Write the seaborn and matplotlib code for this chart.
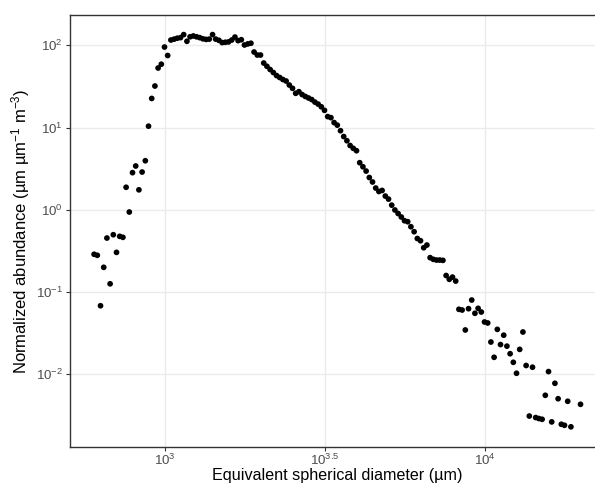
import matplotlib
matplotlib.use('Agg')
import matplotlib.pyplot as plt
import seaborn as sns
import pandas as pd

# Equivalent spherical diameter (µm), bin centres
diameter_um = [
    602.6, 616.6, 631.0, 645.7, 660.7, 676.1, 691.8, 707.9, 724.4, 741.3,
    758.6, 776.2, 794.3, 812.8, 831.8, 851.1, 871.0, 891.3, 912.0, 933.3,
    955.0, 977.2, 1000, 1023, 1047, 1072, 1096, 1122, 1148, 1175,
    1202, 1230, 1259, 1288, 1318, 1349, 1380, 1413, 1445, 1479,
    1514, 1549, 1585, 1622, 1660, 1698, 1738, 1778, 1820, 1862,
    1905, 1950, 1995, 2042, 2089, 2138, 2188, 2239, 2291, 2344,
    2399, 2455, 2512, 2570, 2630, 2692, 2754, 2818, 2884, 2951,
    3020, 3090, 3162, 3236, 3311, 3388, 3467, 3548, 3631, 3715,
    3802, 3890, 3981, 4074, 4169, 4266, 4365, 4467, 4571, 4677,
    4786, 4898, 5012, 5129, 5248, 5370, 5495, 5623, 5754, 5888,
    6026, 6166, 6310, 6457, 6607, 6761, 6918, 7079, 7244, 7413,
    7586, 7762, 7943, 8128, 8318, 8511, 8710, 8913, 9120, 9333,
    9550, 9772, 10000, 10233, 10471, 10715, 10965, 11220, 11482, 11749,
    12023, 12303, 12589, 12882, 13183, 13490, 13804, 14125, 14454, 14791,
    15136, 15488, 15849, 16218, 16596, 16982, 17378, 17783, 18197, 18621,
    19953,
]

# Normalized abundance (µm µm^-1 m^-3)
abundance = [
    0.288, 0.280, 0.0682, 0.200, 0.454, 0.126, 0.498, 0.304, 0.476, 0.463,
    1.88, 0.940, 2.83, 3.41, 1.75, 2.88, 3.95, 10.4, 22.6, 32.0,
    53.0, 58.9, 95.3, 75.2, 116, 119, 122, 124, 135, 112,
    127, 130, 127, 124, 120, 118, 119, 135, 119, 115,
    108, 109, 110, 116, 126, 114, 117, 101, 104, 106,
    82.9, 76.2, 76.2, 60.9, 55.6, 50.8, 46.7, 42.9, 40.6, 38.4,
    36.8, 32.9, 30.0, 26.1, 27.3, 25.2, 23.9, 22.9, 21.9, 20.4,
    19.3, 17.9, 16.2, 13.6, 13.2, 11.5, 10.7, 9.16, 7.78, 6.92,
    6.05, 5.59, 5.23, 3.74, 3.34, 2.96, 2.47, 2.18, 1.84, 1.67,
    1.72, 1.47, 1.35, 1.14, 0.995, 0.902, 0.818, 0.737, 0.717, 0.623,
    0.542, 0.448, 0.421, 0.346, 0.373, 0.262, 0.250, 0.245, 0.245, 0.243,
    0.159, 0.143, 0.152, 0.136, 0.0617, 0.0605, 0.0346, 0.0628, 0.0800, 0.0552,
    0.0634, 0.0572, 0.0433, 0.0421, 0.0247, 0.0161, 0.0352, 0.0230, 0.0299, 0.0220,
    0.0178, 0.0140, 0.0103, 0.0201, 0.0327, 0.0128, 0.00311, 0.0122, 0.00298, 0.00290,
    0.00284, 0.00556, 0.0108, 0.00264, 0.00778, 0.00505, 0.00247, 0.00240, 0.00470, 0.00230,
    0.00432,
]

x_ticks = [1000, 3162.2777, 10000]
x_tick_labels = [r'$10^{3}$', r'$10^{3.5}$', r'$10^{4}$']
y_ticks = [0.01, 0.1, 1, 10, 100]
y_tick_labels = [r'$10^{-2}$', r'$10^{-1}$', r'$10^{0}$', r'$10^{1}$', r'$10^{2}$']

sns.set_theme(style='white')
plt.rcParams['font.family'] = ['Liberation Sans', 'DejaVu Sans']
plt.rcParams['mathtext.fontset'] = 'custom'
plt.rcParams['mathtext.rm'] = 'Liberation Sans'
plt.rcParams['mathtext.it'] = 'Liberation Sans:italic'
plt.rcParams['mathtext.bf'] = 'Liberation Sans:bold'
plt.rcParams['mathtext.sf'] = 'Liberation Sans'

fig = plt.figure(figsize=(5.95, 4.86), dpi=100)
# panel extends slightly past the right edge of the (cropped) image
ax = fig.add_axes([70.3 / 595, 39.3 / 486, 534.5 / 595, 431.4 / 486])

df = pd.DataFrame({'diameter': diameter_um, 'abundance': abundance})
sns.scatterplot(data=df, x='diameter', y='abundance', ax=ax, color='black',
                s=17, linewidth=0, edgecolor='none', zorder=3)

ax.set_xscale('log')
ax.set_yscale('log')
ax.set_xlim(10 ** 2.7056, 10 ** 4.3759)
ax.set_ylim(10 ** -2.880, 10 ** 2.365)
ax.minorticks_off()
ax.set_xticks(x_ticks, x_tick_labels)
ax.set_yticks(y_ticks, y_tick_labels)
ax.minorticks_off()

ax.grid(True, which='major', color='#EBEBEB', linewidth=1.0, zorder=0)
ax.set_axisbelow(True)
for sp in ax.spines.values():
    sp.set_color('#333333')
    sp.set_linewidth(1.0)
ax.tick_params(axis='both', which='major', length=3.2, width=0.8, color='#333333',
               labelsize=9.6, labelcolor='#4D4D4D', pad=2, bottom=True, left=True)
ax.tick_params(axis='x', pad=1.5)

ax.set_xlabel('Equivalent spherical diameter (µm)', fontsize=11.6, color='black', labelpad=0)
ax.set_ylabel(r'Normalized abundance (µm µm$^{-1}$ m$^{-3}$)', fontsize=12,
              color='black', labelpad=3)

fig.savefig('out.png', dpi=100)
